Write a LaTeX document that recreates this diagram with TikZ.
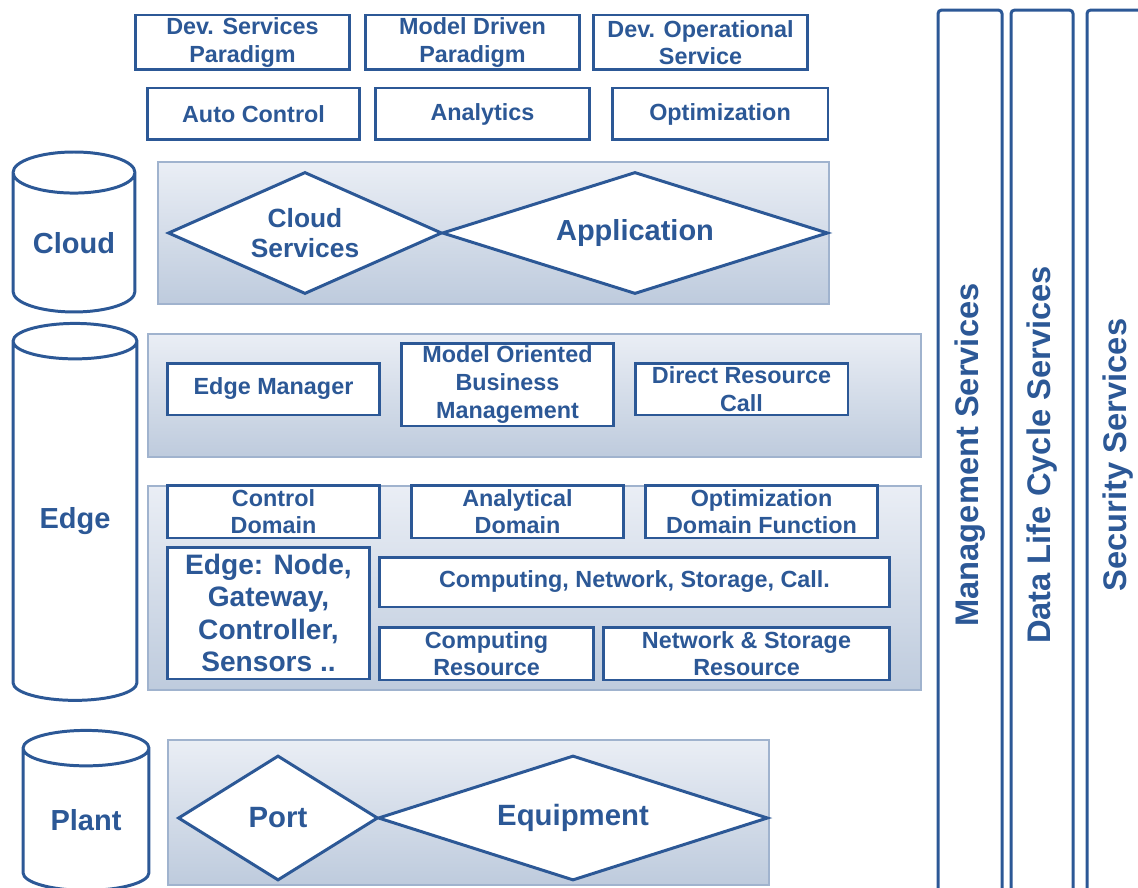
\documentclass[tikz,border=0pt]{standalone}
\usepackage{fontspec}
\setmainfont{Liberation Sans}
\usetikzlibrary{shapes.geometric}

\definecolor{archblue}{RGB}{44,88,150}
\definecolor{paneltop}{RGB}{234,238,245}
\definecolor{panelbot}{RGB}{190,203,221}
\definecolor{panelline}{RGB}{160,179,206}

\tikzset{
  box/.style={draw=archblue, line width=1.7pt, fill=white, text=archblue, align=center,
    inner sep=0pt, font=\bfseries\fontsize{13.3}{15.7}\selectfont},
  bigbox/.style={box, font=\bfseries\fontsize{16}{18.3}\selectfont},
  tier/.style={cylinder, shape border rotate=90, aspect=0.5, draw=archblue, line width=1.7pt,
    fill=white, text=archblue, inner sep=0pt, font=\bfseries\fontsize{16.5}{19}\selectfont},
  layer/.style={draw=panelline, line width=0.8pt, top color=paneltop, bottom color=panelbot},
  gem/.style={diamond, draw=archblue, line width=1.7pt, fill=white, text=archblue, align=center,
    inner sep=0pt, font=\bfseries\fontsize{15}{17}\selectfont},
  pillar/.style={draw=archblue, line width=1.7pt, rounded corners=2pt, rotate=90, text=archblue,
    inner sep=0pt, font=\bfseries\fontsize{18.6}{20}\selectfont}
}

\begin{document}
\begin{tikzpicture}[x=0.02cm, y=-0.02cm]
    \useasboundingbox (0,0) rectangle (1138,888);
    \clip (0,0) rectangle (1138,888);

    % paradigms and functions on top
    \node[box, minimum width=4.3cm, minimum height=1.1cm] at (242.5, 42.5) (devsrv) {Dev. Services\\Paradigm};
    \node[box, minimum width=4.3cm, minimum height=1.1cm] at (472.5, 42.5) (modeldrv) {Model Driven\\Paradigm};
    \node[box, minimum width=4.3cm, minimum height=1.1cm] at (700.5, 42.5) (devops) {Dev. Operational\\Service};

    \node[box, minimum width=4.26cm, minimum height=1.04cm] at (253.5, 114) (autoctl) {Auto Control};
    \node[box, minimum width=4.3cm, minimum height=1.04cm] at (482.5, 114) (analytics) {Analytics};
    \node[box, minimum width=4.32cm, minimum height=1.04cm] at (720, 114) (optim) {Optimization};

    % cloud tier
    \node[tier, minimum width=2.44cm, minimum height=3.2cm] at (74, 243) (cloud) {Cloud};
    \draw[layer] (158, 162) rectangle (829, 304);
    \node[gem, aspect=2.25, minimum width=5.48cm, minimum height=2.44cm] at (305, 233) (cloudsrv) {Cloud\\Services};
    \node[gem, aspect=3.16, minimum width=7.72cm, minimum height=2.44cm, font=\bfseries\fontsize{16.5}{19}\selectfont] at (635, 233) (app) {Application};

    % edge tier
    \node[tier, minimum width=2.48cm, minimum height=7.54cm] at (75, 521.5) (edge) {Edge};
    \draw[layer] (148, 334) rectangle (921, 457);
    \node[box, minimum width=4.26cm, minimum height=1.04cm] at (273.5, 389) (edgemgr) {Edge Manager};
    \node[box, minimum width=4.26cm, minimum height=1.66cm] at (507.5, 384.5) (mobm) {Model Oriented\\Business\\Management};
    \node[box, minimum width=4.26cm, minimum height=1.04cm] at (741.5, 389) (drc) {Direct Resource\\Call};

    \draw[layer] (148, 486) rectangle (921, 690);
    \node[box, minimum width=4.26cm, minimum height=1.06cm] at (273.5, 511.5) (ctldom) {Control\\Domain};
    \node[box, minimum width=4.26cm, minimum height=1.06cm] at (517.5, 511.5) (anadom) {Analytical\\Domain};
    \node[box, minimum width=4.66cm, minimum height=1.06cm] at (761.5, 511.5) (optdom) {Optimization\\Domain Function};
    \node[bigbox, minimum width=4.06cm, minimum height=2.64cm] at (268.5, 613) (edgenode) {Edge: Node,\\Gateway,\\Controller,\\Sensors ..};
    \node[box, minimum width=10.22cm, minimum height=1.0cm] at (634.5, 582) (cnsc) {Computing, Network, Storage, Call.};
    \node[box, minimum width=4.3cm, minimum height=1.06cm] at (486.5, 653.5) (compres) {Computing\\Resource};
    \node[box, minimum width=5.74cm, minimum height=1.06cm] at (746.5, 653.5) (nsres) {Network \& Storage\\Resource};

    % plant tier
    \node[tier, minimum width=2.52cm, minimum height=3.2cm] at (86, 820) (plant) {Plant};
    \draw[layer] (168, 740) rectangle (769, 885);
    \node[gem, aspect=1.6, minimum width=4.0cm, minimum height=2.5cm, font=\bfseries\fontsize{16.7}{19}\selectfont] at (278, 818) (port) {Port};
    \node[gem, aspect=3.12, minimum width=7.8cm, minimum height=2.5cm, font=\bfseries\fontsize{16.7}{19}\selectfont] at (573, 818) (equip) {Equipment};

    % cross-cutting services
    \node[pillar, minimum width=17.8cm, minimum height=1.28cm] at (970, 455) (mgmt) {Management Services};
    \node[pillar, minimum width=17.8cm, minimum height=1.24cm] at (1042, 455) (dlc) {Data Life Cycle Services};
    \node[pillar, minimum width=17.8cm, minimum height=1.26cm] at (1118.5, 455) (sec) {Security Services};
\end{tikzpicture}
\end{document}
